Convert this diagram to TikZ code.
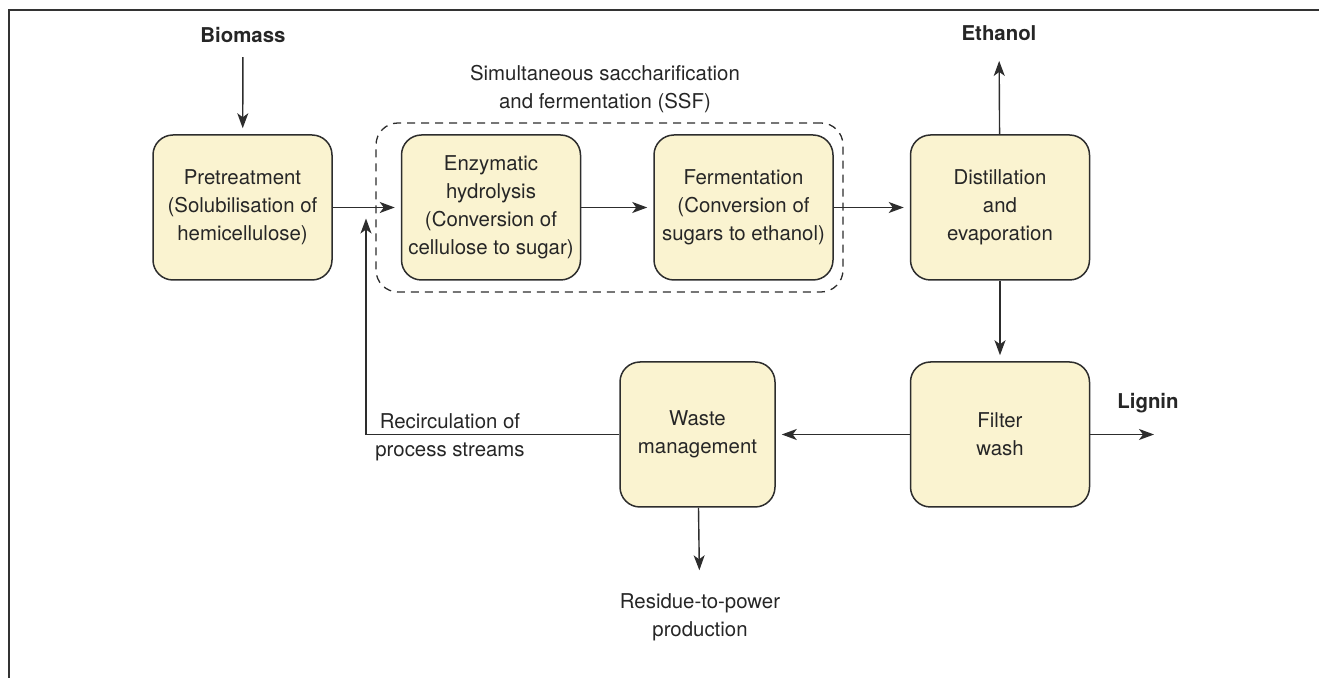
\documentclass[tikz,border=0pt]{standalone}
\usepackage{fontspec}
\setmainfont{TeX Gyre Heros}
\usetikzlibrary{arrows.meta}

\definecolor{stagefill}{RGB}{250,243,208}
\definecolor{linegray}{RGB}{45,45,45}

\begin{document}
\begin{tikzpicture}[
		x=0.5pt, y=-0.5pt,
		every node/.style={font=\fontsize{10.2pt}{14pt}\selectfont, text=black!85, align=center},
		stage/.style={rectangle, rounded corners=10pt, draw=linegray, line width=0.75pt, fill=stagefill, minimum width=89.5pt, minimum height=72.5pt, inner sep=0pt},
		ssfbox/.style={rectangle, rounded corners=11pt, draw=linegray, line width=0.65pt, dash pattern=on 4pt off 3pt, minimum width=233.5pt, minimum height=84.5pt},
		product/.style={font=\bfseries\fontsize{10.2pt}{14pt}\selectfont, inner sep=0pt},
		flow/.style={draw=linegray, line width=0.7pt, -{Stealth[length=7.5pt, width=5.5pt, inset=2pt]}, shorten >=3pt}
	]
  \useasboundingbox (0,0) rectangle (1319,678);
  % frame
  \draw[line width=1pt, black!80] (9,678) -- (9,10) -- (1319,10);

  \node (ssf) [ssfbox] at (609.5, 207.5) {};
  \node (ssf_text) at (605, 89) {Simultaneous saccharification\\and fermentation (SSF)};

  \node (pre) [stage] at (242.5, 207.5) {Pretreatment\\(Solubilisation of\\hemicellulose)};
  \node (enz) [stage] at (491, 207.5) {Enzymatic\\hydrolysis\\(Conversion of\\cellulose to sugar)};
  \node (fer) [stage] at (743.5, 207.5) {Fermentation\\(Conversion of\\sugars to ethanol)};
  \node (dist) [stage] at (1000, 207.5) {Distillation\\and\\evaporation};
  \node (filt) [stage] at (1000, 434.5) {Filter\\wash};
  \node (waste) [stage, minimum width=77.5pt] at (697.5, 434.5) {Waste\\management};

  \node (bio) [product] at (243, 35) {Biomass};
  \node (eth) [product] at (999, 33) {Ethanol};
  \node (lig) [product] at (1148, 403) {Lignin};
  \node (res) at (700, 617) {Residue-to-power\\production};
  \node (rec) at (450, 437) {Recirculation of\\process streams};

  \coordinate (lig_end) at (1160, 434.5);
  \coordinate (rec_turn) at (366, 434.5);
  \coordinate (rec_end) at (366, 207.5);

  \draw (bio) edge [flow, shorten <=7pt] (pre);
  \draw (pre) edge [flow] (enz);
  \draw (enz) edge [flow] (fer);
  \draw (fer) edge [flow] (dist);
  \draw (dist) edge [flow, shorten >=10pt] (eth);
  \draw (dist) edge [flow] (filt);
  \draw (filt) edge [flow] (lig_end);
  \draw (filt) edge [flow] (waste);
  \draw (waste) edge [flow, shorten >=8pt] (res);
  \draw [flow, shorten >=5.5pt] (waste) -- (rec_turn) -- (rec_end);
\end{tikzpicture}
\end{document}
